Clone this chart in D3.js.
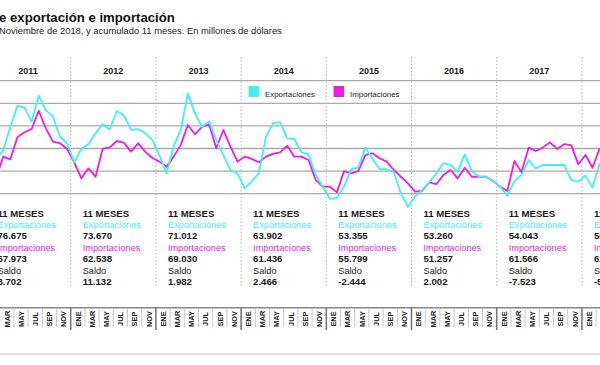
<!DOCTYPE html>
<html>
<head>
<meta charset="utf-8">
<script src="https://d3js.org/d3.v7.min.js"></script>
<style>
body{margin:0;background:#fff;overflow:hidden;}
svg text{font-family:"Liberation Sans", Arial, sans-serif;}
</style>
</head>
<body>
<script>
//data: monthly values in millions of dollars, ENE 2011 to MAR 2018
var years = ["2011", "2012", "2013", "2014", "2015", "2016", "2017", "2018"];
var monthLabels = ["ENE", "MAR", "MAY", "JUL", "SEP", "NOV"];
var gridValues = [4000, 5000, 6000, 7000, 8000, 9000];

var exportaciones = [
    5400, 5540, 5930, 6950, 7890, 7810, 7190, 8340, 7700, 7410, 6520, 6230, //2011
    5390, 5980, 6200, 6670, 7070, 6840, 7660, 7460, 6820, 6860, 6670, 6380, //2012
    5710, 4900, 6080, 6820, 8440, 7560, 6960, 7190, 6380, 5710, 5050, 4900, //2013
    4240, 4560, 4900, 6520, 7120, 7160, 6450, 6420, 5830, 5740, 4830, 4310, //2014
    3770, 3820, 4310, 5090, 5150, 6040, 5540, 5090, 5090, 4950, 4020, 3420, //2015
    3870, 4160, 4500, 4900, 5350, 5270, 4970, 5740, 5000, 4750, 4750, 4560, //2016
    4310, 3910, 4560, 4830, 5490, 5120, 5270, 5270, 5270, 5270, 4610, 4530, //2017
    4800, 4270, 5350                                                        //2018
];
var importaciones = [
    4960, 4690, 5640, 5520, 6500, 6720, 6860, 7670, 6890, 6300, 6230, 5980,
    5390, 4680, 5120, 4750, 5980, 6050, 6330, 6260, 5860, 6230, 5860, 5580,
    5420, 5190, 5640, 6150, 7040, 6630, 6960, 7070, 6010, 6820, 6080, 5420,
    5640, 5540, 5390, 5640, 5760, 5830, 6120, 5640, 5640, 5490, 4610, 4310,
    4310, 4060, 5000, 4900, 5000, 5710, 5790, 5570, 5420, 5050, 4750, 4460,
    4090, 4120, 4500, 4420, 4830, 5050, 4680, 5150, 4750, 4750, 4750, 4560,
    4310, 4120, 5450, 4950, 6040, 5890, 6040, 6270, 5980, 6190, 6150, 5300,
    5710, 5150, 6010
];

//accumulated 11 months per year
var acumExport = ["76.675", "73.670", "71.012", "63.902", "53.355", "53.260", "54.043", "56.049"];
var acumImport = ["67.973", "62.538", "69.030", "61.436", "55.799", "51.257", "61.566", "61.352"];
var acumSaldo = ["8.702", "11.132", "1.982", "2.466", "-2.444", "2.002", "-7.523", "-5.303"];

var colorExp = "#3ff0f4",
    colorImp = "#f21ae6";

window.onload = setChart();

function setChart(){
    var width = 600,
        height = 365;

    var svg = d3.select("body")
        .append("svg")
        .attr("width", width)
        .attr("height", height);

    //month index scale (year blocks are cut at both sides)
    var x = d3.scaleLinear()
        .domain([0, 96])
        .range([-14.5, -14.5 + 8 * 85.2]);

    var y = d3.scaleLinear()
        .domain([4000, 9000])
        .range([193.7, 80.7]);

    //title
    svg.append("text")
        .attr("x", -1)
        .attr("y", 22)
        .style("font-size", "13.2px")
        .style("font-weight", "bold")
        .style("fill", "#111")
        .text("e exportación e importación");

    svg.append("text")
        .attr("x", -1)
        .attr("y", 34)
        .style("font-size", "9.4px")
        .style("fill", "#222")
        .text("Noviembre de 2018, y acumulado 11 meses. En millones de dólares");

    //horizontal grid
    svg.selectAll(".grid")
        .data(gridValues)
        .enter()
        .append("line")
        .attr("class", "grid")
        .attr("x1", 0)
        .attr("x2", width)
        .attr("y1", function(d){ return y(d); })
        .attr("y2", function(d){ return y(d); })
        .style("stroke", "#aaa")
        .style("stroke-width", 1.3);

    //dotted year separators
    svg.selectAll(".sep")
        .data(years.slice(1))
        .enter()
        .append("line")
        .attr("class", "sep")
        .attr("x1", function(d, i){ return x((i + 1) * 12); })
        .attr("x2", function(d, i){ return x((i + 1) * 12); })
        .attr("y1", 57)
        .attr("y2", 288)
        .style("stroke", "#b5b5b5")
        .style("stroke-width", 1)
        .style("stroke-dasharray", "1.5,2");

    //year labels
    svg.selectAll(".year")
        .data(years)
        .enter()
        .append("text")
        .attr("class", "year")
        .attr("x", function(d, i){ return x(i * 12 + 6); })
        .attr("y", 73.5)
        .attr("text-anchor", "middle")
        .style("font-size", "9px")
        .style("font-weight", "bold")
        .style("fill", "#222")
        .text(function(d){ return d; });

    //lines
    var line = d3.line()
        .x(function(d, i){ return x(i + 0.5); })
        .y(function(d){ return y(d); });

    svg.append("path")
        .datum(importaciones)
        .attr("d", line)
        .style("fill", "none")
        .style("stroke", colorImp)
        .style("stroke-width", 1.8)
        .style("stroke-linejoin", "round");

    svg.append("path")
        .datum(exportaciones)
        .attr("d", line)
        .style("fill", "none")
        .style("stroke", colorExp)
        .style("stroke-width", 1.8)
        .style("stroke-linejoin", "round");

    //legend
    var legend = [
        {name: "Exportaciones", color: colorExp, x: 248.5},
        {name: "Importaciones", color: colorImp, x: 333.5}
    ];
    var leg = svg.selectAll(".legend")
        .data(legend)
        .enter()
        .append("g")
        .attr("transform", function(d){ return "translate(" + d.x + ",86)"; });
    leg.append("rect")
        .attr("width", 10.5)
        .attr("height", 11)
        .style("fill", function(d){ return d.color; });
    leg.append("text")
        .attr("x", 16.5)
        .attr("y", 11)
        .style("font-size", "7.9px")
        .style("fill", "#222")
        .text(function(d){ return d.name; });

    //accumulated blocks
    var rows = [
        {txt: function(i){ return "11 MESES"; }, color: "#1a1a1a", bold: true},
        {txt: function(i){ return "Exportaciones"; }, color: colorExp, bold: false},
        {txt: function(i){ return acumExport[i]; }, color: "#1a1a1a", bold: true},
        {txt: function(i){ return "Importaciones"; }, color: colorImp, bold: false},
        {txt: function(i){ return acumImport[i]; }, color: "#1a1a1a", bold: true},
        {txt: function(i){ return "Saldo"; }, color: "#1a1a1a", bold: false},
        {txt: function(i){ return acumSaldo[i]; }, color: "#1a1a1a", bold: true}
    ];
    years.forEach(function(yr, i){
        var bx = x(i * 12) + 12;
        rows.forEach(function(r, j){
            svg.append("text")
                .attr("x", bx)
                .attr("y", 216.6 + j * 11.4)
                .style("font-size", r.bold ? "9.6px" : "9.2px")
                .style("font-weight", r.bold ? "bold" : "normal")
                .style("fill", r.color)
                .text(r.txt(i));
        });
    });

    //month axis
    svg.append("line")
        .attr("x1", 0)
        .attr("x2", width)
        .attr("y1", 307.7)
        .attr("y2", 307.7)
        .style("stroke", "#888")
        .style("stroke-width", 1.4);

    var ticks = d3.range(0, 96, 2);
    svg.selectAll(".tick")
        .data(ticks)
        .enter()
        .append("line")
        .attr("x1", function(d){ return x(d); })
        .attr("x2", function(d){ return x(d); })
        .attr("y1", 307.7)
        .attr("y2", function(d){ return d % 12 == 0 ? 330 : 327; })
        .style("stroke", function(d){ return d % 12 == 0 ? "#777" : "#bbb"; })
        .style("stroke-width", function(d){ return d % 12 == 0 ? 1.6 : 0.8; });

    svg.selectAll(".mlabel")
        .data(ticks)
        .enter()
        .append("text")
        .attr("transform", function(d){
            return "translate(" + (x(d + 1) + 2.8) + ",319) rotate(-90)";
        })
        .attr("text-anchor", "middle")
        .style("font-size", "7.4px")
        .style("font-weight", "bold")
        .style("fill", "#222")
        .text(function(d){ return monthLabels[(d % 12) / 2]; });

    svg.append("line")
        .attr("x1", 0)
        .attr("x2", width)
        .attr("y1", 354.3)
        .attr("y2", 354.3)
        .style("stroke", "#ddd")
        .style("stroke-width", 2);
};
</script>
</body>
</html>
